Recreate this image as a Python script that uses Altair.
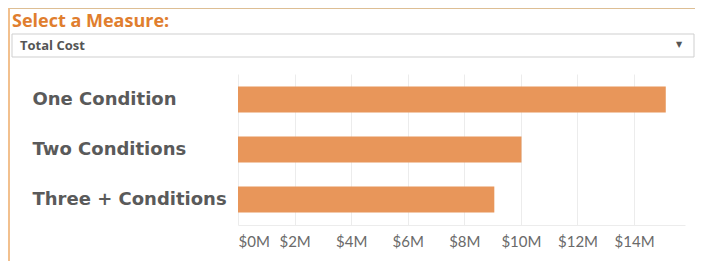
import altair as alt
import pandas as pd

categories = ["One Condition", "Two Conditions", "Three + Conditions"]
total_cost_m = [15.12, 10.02, 9.06]
tick_values = [0, 2, 4, 6, 8, 10, 12, 14]
title_text = "Select a Measure:"
dropdown_text = "Total Cost"

df = pd.DataFrame({"category": categories, "cost": total_cost_m})
one = pd.DataFrame({"a": [0]})

ORANGE = "#E8965A"
FONT = "Open Sans"

bars = alt.Chart(df).mark_bar(color=ORANGE).encode(
    x=alt.X("cost:Q",
            scale=alt.Scale(domain=[0, 15.8], nice=False),
            axis=alt.Axis(values=tick_values, title=None, grid=True, gridColor="#ececec",
                          domainColor="#ececec", ticks=False, tickSize=0,
                          labelExpr="'$' + datum.value + 'M'", labelFlush=True,
                          labelFont="Lato", labelFontSize=15, labelColor="#6a6a6a",
                          labelPadding=9)),
    y=alt.Y("category:N", sort=categories,
            scale=alt.Scale(paddingInner=0.48, paddingOuter=0.25),
            axis=alt.Axis(title=None, ticks=False, tickSize=0, domain=False,
                          labelAlign="left", labelPadding=206, labelFont="DejaVu Sans",
                          labelFontSize=18, labelFontWeight="bold", labelColor="#5a5a5a",
                          labelLimit=300)),
)

base = alt.Chart(one)

border_v = base.mark_rule(color="#F2C08E", strokeWidth=2).encode(
    x=alt.value(-229), y=alt.value(-66), y2=alt.value(200))
border_h = base.mark_rule(color="#DDBE94", strokeWidth=1).encode(
    x=alt.value(-229), x2=alt.value(470), y=alt.value(-65.5))

dropdown = base.mark_rect(fill="white", stroke="#cfcfcf", strokeWidth=1).encode(
    x=alt.value(-226), x2=alt.value(456), y=alt.value(-40), y2=alt.value(-17))

dd_text = base.mark_text(text=dropdown_text, align="left", baseline="alphabetic",
                         font=FONT, fontSize=13, fontWeight="bold", color="#555555").encode(
    x=alt.value(-218), y=alt.value(-24))

arrow = base.mark_text(text="▼", align="center", baseline="middle",
                       font="DejaVu Sans", fontSize=8, color="#555555").encode(
    x=alt.value(441), y=alt.value(-29))

title = base.mark_text(text=title_text, align="left", baseline="alphabetic",
                       font=FONT, fontSize=18, fontWeight="bold", color="#E07E2E").encode(
    x=alt.value(-226), y=alt.value(-47))

chart = alt.layer(bars, border_v, border_h, dropdown, dd_text, arrow, title).properties(
    width=447, height=151,
    autosize=alt.AutoSizeParams(type="none"),
    padding={"left": 230, "top": 66, "right": 10, "bottom": 36},
).configure_view(stroke=None)

chart.save("out.html", embed_options={"renderer": "svg", "actions": False})
